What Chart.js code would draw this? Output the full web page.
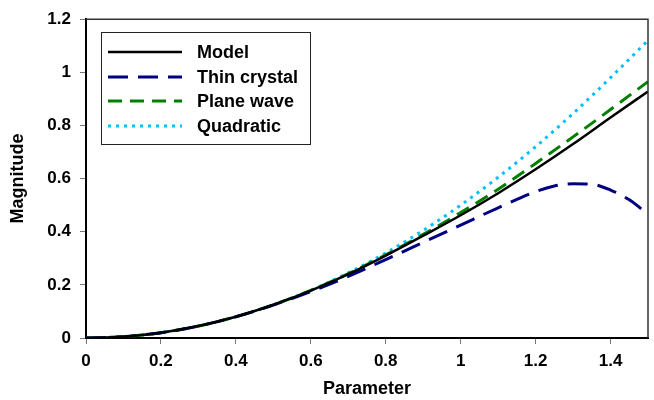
<!DOCTYPE html>
<html>
<head>
<meta charset="utf-8">
<script src="https://cdn.jsdelivr.net/npm/chart.js@4/dist/chart.umd.min.js"></script>
<style>
  html, body { margin: 0; padding: 0; background: #fff; }
  #wrap { width: 654px; height: 400px; }
</style>
</head>
<body>
<div id="wrap"><canvas id="chart" width="654" height="400"></canvas></div>
<script>
// values
const params = [0, 0.1, 0.2, 0.3, 0.4, 0.5, 0.6, 0.7, 0.8, 0.9, 1.0, 1.1, 1.2, 1.3, 1.4, 1.5];
const model = [0, 0.005, 0.02, 0.045, 0.08, 0.125, 0.178, 0.24, 0.31, 0.385, 0.462, 0.545, 0.635, 0.73, 0.83, 0.928];
const planeWave = [0, 0.005, 0.02, 0.045, 0.08, 0.125, 0.179, 0.242, 0.313, 0.39, 0.472, 0.56, 0.657, 0.757, 0.86, 0.965];
const quadratic = [0, 0.005, 0.02, 0.045, 0.08, 0.125, 0.18, 0.245, 0.32, 0.405, 0.5, 0.605, 0.72, 0.845, 0.98, 1.12];

// thin crystal is read more finely near its peak
const thinParams = [0, 0.1, 0.2, 0.3, 0.4, 0.5, 0.6, 0.7, 0.8, 0.9, 1.0, 1.1, 1.2, 1.25, 1.3, 1.35, 1.4, 1.45, 1.5];
const thinCrystal = [0, 0.005, 0.02, 0.045, 0.08, 0.124, 0.175, 0.232, 0.295, 0.36, 0.425, 0.49, 0.551, 0.572, 0.581, 0.579, 0.557, 0.52, 0.466];

const xTicks = [0, 0.2, 0.4, 0.6, 0.8, 1, 1.2, 1.4];
const yTicks = [0, 0.2, 0.4, 0.6, 0.8, 1, 1.2];

const FONT = '"Liberation Sans", Arial, sans-serif';

function toPoints(xs, ys) {
    return xs.map((x, i) => ({ x: x, y: ys[i] }));
}

function series(label, xs, ys, color, dash, width) {
    return {
        label: label,
        data: toPoints(xs, ys),
        borderColor: color,
        backgroundColor: color,
        borderWidth: width,
        borderDash: dash,
        pointRadius: 0,
        cubicInterpolationMode: 'monotone',
        fill: false
    };
}

// legend box inside the plot + top/right frame lines
const boxLegend = {
    id: 'boxLegend',
    afterDraw(chart) {
        const ctx = chart.ctx;
        const a = chart.chartArea;
        ctx.save();
        ctx.strokeStyle = '#333';
        ctx.lineWidth = 1.5;
        ctx.beginPath();
        ctx.moveTo(a.left, a.top);
        ctx.lineTo(a.right, a.top);
        ctx.lineTo(a.right, a.bottom);
        ctx.stroke();

        // legend frame
        ctx.strokeStyle = '#222';
        ctx.lineWidth = 1;
        ctx.strokeRect(101.5, 32.5, 209, 112);

        ctx.font = 'bold 18px ' + FONT;
        ctx.textBaseline = 'middle';
        ctx.fillStyle = '#000';
        const rows = [52, 77, 101, 126];
        chart.data.datasets.forEach((ds, i) => {
            const y = rows[i];
            ctx.beginPath();
            ctx.strokeStyle = ds.borderColor;
            ctx.lineWidth = ds.borderWidth;
            ctx.setLineDash(ds.borderDash || []);
            ctx.moveTo(108, y);
            ctx.lineTo(182, y);
            ctx.stroke();
            ctx.setLineDash([]);
            ctx.fillText(ds.label, 197, y + 1);
        });
        ctx.restore();
    }
};

new Chart(document.getElementById('chart'), {
    type: 'line',
    data: {
        datasets: [
            series('Model', params, model, '#000000', [], 2.5),
            series('Thin crystal', thinParams, thinCrystal, '#000080', [20, 10], 3),
            series('Plane wave', params, planeWave, '#008000', [14, 8], 3),
            series('Quadratic', params, quadratic, '#00BFFF', [3, 5], 3)
        ]
    },
    options: {
        responsive: false,
        animation: false,
        layout: { padding: { left: 0, top: 18, right: 6, bottom: 0 } },
        plugins: {
            legend: { display: false },
            tooltip: { enabled: false }
        },
        scales: {
            x: {
                type: 'linear',
                min: 0,
                max: 1.5,
                afterBuildTicks: s => { s.ticks = xTicks.map(v => ({ value: v })); },
                afterFit: s => { s.height = 62; },
                grid: { drawOnChartArea: false, drawTicks: true, tickLength: 6, color: '#777' },
                border: { color: '#000', width: 2 },
                ticks: {
                    color: '#000',
                    padding: 7,
                    maxRotation: 0,
                    font: { family: FONT, size: 17, weight: 'bold' },
                    callback: v => String(+Number(v).toFixed(1))
                },
                title: {
                    display: true,
                    text: 'Parameter',
                    color: '#000',
                    padding: { top: 0, bottom: 0 },
                    font: { family: FONT, size: 18, weight: 'bold' }
                }
            },
            y: {
                type: 'linear',
                min: 0,
                max: 1.2,
                afterBuildTicks: s => { s.ticks = yTicks.map(v => ({ value: v })); },
                afterFit: s => { s.width = 86; },
                grid: { drawOnChartArea: false, drawTicks: true, tickLength: 6, color: '#777' },
                border: { color: '#000', width: 2 },
                ticks: {
                    color: '#000',
                    padding: 9,
                    font: { family: FONT, size: 17, weight: 'bold' },
                    callback: v => String(+Number(v).toFixed(1))
                },
                title: {
                    display: true,
                    text: 'Magnitude',
                    color: '#000',
                    padding: { top: 7, bottom: 0 },
                    font: { family: FONT, size: 18, weight: 'bold' }
                }
            }
        }
    },
    plugins: [boxLegend]
});
</script>
</body>
</html>
